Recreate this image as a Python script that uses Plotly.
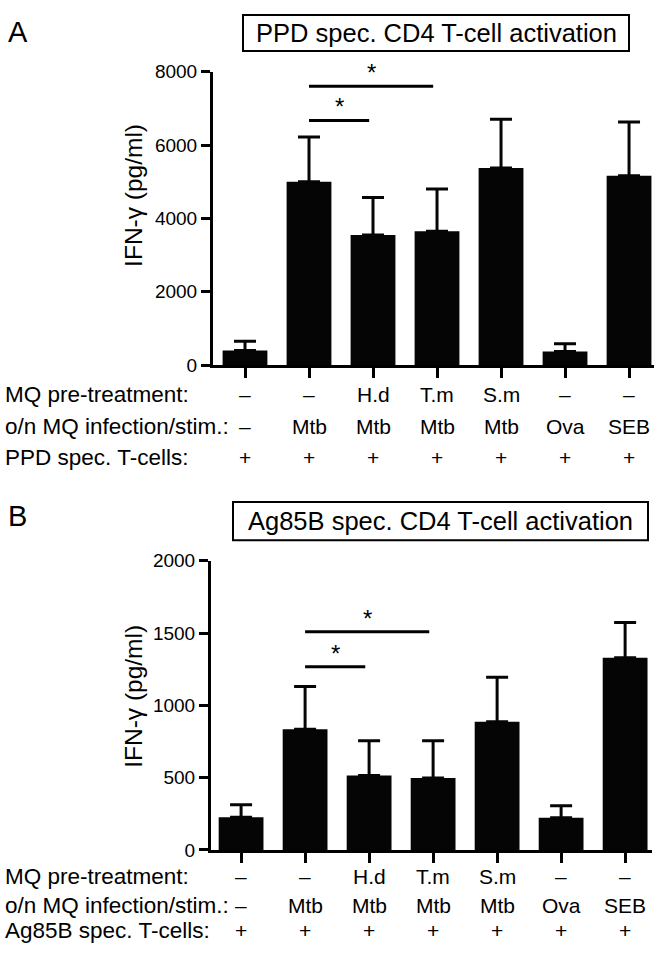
import plotly.graph_objects as go

# ---------------- data ----------------
categories = ["ctrl", "Mtb", "H.d+Mtb", "T.m+Mtb", "S.m+Mtb", "Ova", "SEB"]

ppd_mean = [400, 5000, 3550, 3650, 5370, 370, 5160]
ppd_upper = [650, 6220, 4570, 4800, 6700, 580, 6630]

ag85b_mean = [226, 835, 515, 497, 886, 222, 1330]
ag85b_upper = [312, 1130, 755, 755, 1195, 305, 1573]

row_pretreat = ["–", "–", "H.d", "T.m", "S.m", "–", "–"]
row_infection = ["–", "Mtb", "Mtb", "Mtb", "Mtb", "Ova", "SEB"]
row_tcells = ["+", "+", "+", "+", "+", "+", "+"]

row_labels_A = ["MQ pre-treatment:", "o/n MQ infection/stim.:", "PPD spec. T-cells:"]
row_labels_B = ["MQ pre-treatment:", "o/n MQ infection/stim.:", "Ag85B spec. T-cells:"]

ppd_ticks = [0, 2000, 4000, 6000, 8000]
ag_ticks = [0, 500, 1000, 1500, 2000]

# significance brackets: (from index, to index, y value)
sig_A = [(1, 2, 6670), (1, 3, 7600)]
sig_B = [(1, 2, 1267), (1, 3, 1510)]

title_A = "PPD spec. CD4 T-cell activation"
title_B = "Ag85B spec. CD4 T-cell activation"
ytitle = "IFN-γ (pg/ml)"

# ---------------- layout helpers ----------------
W, H = 666, 969
FONT = "Liberation Sans, Arial, sans-serif"


def px(x):
    return x / W


def py(y):
    return 1 - y / H


fig = go.Figure()


def add_bars(means, upper, xa, ya):
    fig.add_trace(go.Bar(
        x=categories, y=means, xaxis=xa, yaxis=ya,
        marker=dict(color="#050505", line=dict(width=0)),
        width=0.7,
        error_y=dict(type="data", symmetric=False,
                     array=[u - m for u, m in zip(upper, means)],
                     arrayminus=[0] * len(means),
                     color="#050505", thickness=3, width=11),
        showlegend=False, hoverinfo="skip",
    ))


add_bars(ppd_mean, ppd_upper, "x", "y")
add_bars(ag85b_mean, ag85b_upper, "x2", "y2")

axis_common = dict(showgrid=False, zeroline=False, showline=True, linecolor="black",
                   linewidth=3, ticks="outside", tickwidth=3, tickcolor="black")

fig.update_layout(
    width=W, height=H,
    margin=dict(l=0, r=0, t=0, b=0),
    paper_bgcolor="white", plot_bgcolor="white",
    font=dict(family=FONT, color="black"),
    bargap=0.3,
    xaxis=dict(domain=[px(213), px(654)], range=[-0.5, 6.39], anchor="y",
               type="category", showticklabels=False, ticklen=10, **axis_common),
    yaxis=dict(domain=[py(363), py(63)], range=[0, 8000], anchor="x",
               tickvals=ppd_ticks, ticklen=9,
               tickfont=dict(size=19, family=FONT, color="black"), **axis_common),
    xaxis2=dict(domain=[px(211), px(652)], range=[-0.47, 6.42], anchor="y2",
                type="category", showticklabels=False, ticklen=10, **axis_common),
    yaxis2=dict(domain=[py(858.5), py(563)], range=[0, 2000], anchor="x2",
                tickvals=ag_ticks, ticklen=9,
                tickfont=dict(size=19, family=FONT, color="black"), **axis_common),
)

shapes = []
annotations = []

# significance lines and stars
for (a, b, yv), xr, yr in [(s, "x", "y") for s in sig_A] + [(s, "x2", "y2") for s in sig_B]:
    shapes.append(dict(type="line", xref=xr, yref=yr, x0=a, x1=b - 0.06, y0=yv, y1=yv,
                       line=dict(color="black", width=3)))
    annotations.append(dict(xref=xr, yref=yr, x=(a + b - 0.06) / 2, y=yv, text="*",
                            showarrow=False, yanchor="bottom", yshift=-2,
                            font=dict(size=24, family=FONT, color="black")))

# title boxes
for (x0, y0, x1, y1, txt) in [(243, 5, 629, 42, title_A), (233, 503, 648, 542, title_B)]:
    shapes.append(dict(type="rect", xref="paper", yref="paper",
                       x0=px(x0), x1=px(x1), y0=py(y1), y1=py(y0),
                       line=dict(color="black", width=2), fillcolor="rgba(0,0,0,0)"))
    annotations.append(dict(xref="paper", yref="paper", x=px((x0 + x1) / 2),
                            y=py((y0 + y1) / 2), text=txt, showarrow=False,
                            xanchor="center", yanchor="middle",
                            font=dict(size=25.5, family=FONT, color="black")))

# panel letters
for txt, yc in [("A", 22), ("B", 517)]:
    annotations.append(dict(xref="paper", yref="paper", x=px(6), y=py(yc), text=txt,
                            showarrow=False, xanchor="left", yanchor="middle",
                            font=dict(size=29, family=FONT, color="black")))

# y-axis titles
for yc in [190, 702]:
    annotations.append(dict(xref="paper", yref="paper", x=px(134), y=py(yc), text=ytitle,
                            textangle=-90, showarrow=False, xanchor="center",
                            yanchor="middle",
                            font=dict(size=24.5, family=FONT, color="black")))

# condition table rows
rows_A = [(row_labels_A[0], row_pretreat, 393), (row_labels_A[1], row_infection, 426),
          (row_labels_A[2], row_tcells, 457)]
rows_B = [(row_labels_B[0], row_pretreat, 886), (row_labels_B[1], row_infection, 915),
          (row_labels_B[2], row_tcells, 941)]
for rows, xr in [(rows_A, "x"), (rows_B, "x2")]:
    for label, vals, yc in rows:
        annotations.append(dict(xref="paper", yref="paper", x=px(3), y=py(yc), text=label,
                                showarrow=False, xanchor="left", yanchor="middle",
                                font=dict(size=22.5, family=FONT, color="black")))
        for c, v in zip(categories, vals):
            annotations.append(dict(xref=xr, yref="paper", x=c, y=py(yc), text=v,
                                    showarrow=False, xanchor="center", yanchor="middle",
                                    font=dict(size=21, family=FONT, color="black")))

fig.update_layout(shapes=shapes, annotations=annotations)
fig.write_html("out.html", config={"displayModeBar": False, "staticPlot": True},
               post_script="document.body.style.margin='0';document.body.style.overflow='hidden';")
